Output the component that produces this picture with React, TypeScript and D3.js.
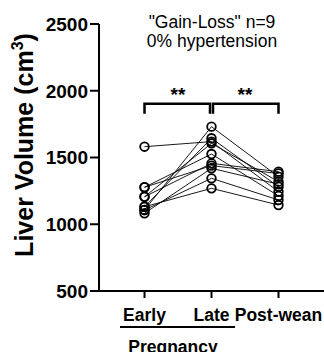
import React from "react";
import * as d3 from "d3";

const categories = ["Early", "Late", "Post-wean"];
const earlyVals = [1107, 1131, 1581, 1206, 1277, 1206, 1277, 1082, 1107, 1131];
const lateVals = [1731, 1644, 1619, 1606, 1526, 1456, 1439, 1419, 1344, 1269];
const postVals = [1356, 1281, 1244, 1319, 1212, 1394, 1380, 1300, 1182, 1144];
const yTicks = [500, 1000, 1500, 2000, 2500];

export default function App() {
  const W = 324, H = 352;
  const y = d3.scaleLinear().domain([500, 2500]).range([291, 24]);
  const x = d3.scalePoint<string>().domain(categories).range([144.5, 278.5]);
  const series = earlyVals.map((e, i) => [e, lateVals[i], postVals[i]]);
  const line = d3.line<number>().x((_, j) => x(categories[j])!).y((v) => y(v));
  const font = "Arial, 'Liberation Sans', sans-serif";
  const xE = x("Early")!, xL = x("Late")!, xP = x("Post-wean")!;
  const bY = y(2000) + 13;
  return (
    <svg width={W} height={H} style={{ position: "absolute", left: 0, top: 0 }} fontFamily={font}>
      <rect width={W} height={H} fill="#fff" />
      <line x1={99} x2={99} y1={y(2500)} y2={y(500) + 1} stroke="#000" strokeWidth={2} />
      <line x1={98} x2={324} y1={y(500)} y2={y(500)} stroke="#000" strokeWidth={2} />
      {yTicks.map((t) => (
        <g key={t}>
          <line x1={90} x2={99} y1={y(t)} y2={y(t)} stroke="#000" strokeWidth={2} />
          <text x={88} y={y(t)} dy="0.36em" textAnchor="end" fontWeight="bold" fontSize={19}>{t}</text>
        </g>
      ))}
      {categories.map((c) => (
        <g key={c}>
          <line x1={x(c)} x2={x(c)} y1={y(500)} y2={y(500) + 7} stroke="#000" strokeWidth={2} />
          <text x={x(c)} y={320.5} textAnchor="middle" fontWeight="bold" fontSize={17.5}>{c}</text>
        </g>
      ))}
      <line x1={120} x2={235} y1={327} y2={327} stroke="#000" strokeWidth={2} />
      <text x={173} y={352.5} textAnchor="middle" fontWeight="bold" fontSize={17.5}>Pregnancy</text>
      <text transform={`translate(33,145) rotate(-90)`} textAnchor="middle" fontWeight="bold" fontSize={25}>
        Liver Volume (cm<tspan dy="-10" fontSize={16}>3</tspan><tspan dy="10">)</tspan>
      </text>
      <text x={212} y={28} textAnchor="middle" fontSize={17.5}>"Gain-Loss" n=9</text>
      <text x={212} y={47} textAnchor="middle" fontSize={17.5}>0% hypertension</text>
      <path d={`M${xE},${bY + 10}V${bY}H${xL - 1.5}V${bY + 10}`} fill="none" stroke="#000" strokeWidth={2.5} />
      <path d={`M${xL + 1.5},${bY + 10}V${bY}H${xP}V${bY + 10}`} fill="none" stroke="#000" strokeWidth={2.5} />
      <text x={(xE + xL) / 2} y={bY - 3} textAnchor="middle" fontWeight="bold" fontSize={19}>**</text>
      <text x={(xL + xP) / 2} y={bY - 3} textAnchor="middle" fontWeight="bold" fontSize={19}>**</text>
      {series.map((s, i) => (
        <path key={i} d={line(s)!} fill="none" stroke="#000" strokeWidth={0.9} />
      ))}
      {series.map((s, i) =>
        s.map((v, j) => (
          <circle key={`${i}-${j}`} cx={x(categories[j])} cy={y(v)} r={4.3} fill="none" stroke="#000" strokeWidth={1.8} />
        ))
      )}
    </svg>
  );
}
